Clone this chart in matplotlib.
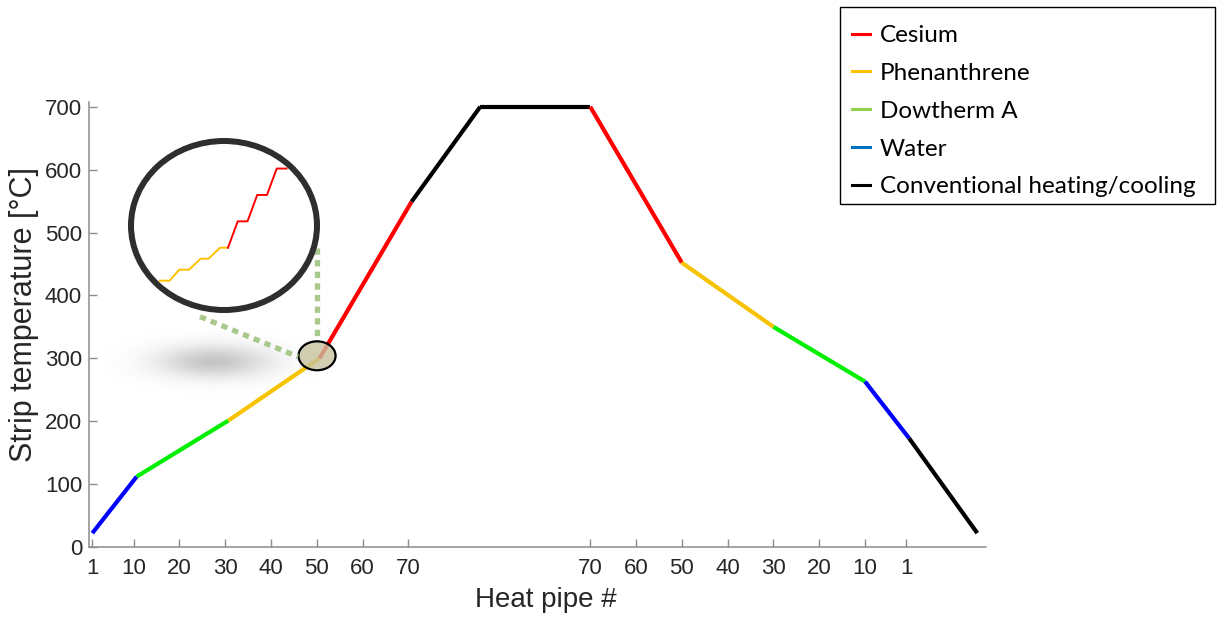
import numpy as np
import matplotlib
matplotlib.use("Agg")
import matplotlib.pyplot as plt
from matplotlib.lines import Line2D
from matplotlib.patches import Ellipse, Rectangle

# Strip temperature along the line. x is the position in heat-pipe units:
# heating pipes 1..70, the conventional furnace section, then cooling pipes 70..1.
path_x = [1.0, 10.7, 30.7, 50.6, 70.7, 85.7, 109.7, 129.7, 149.7, 169.7, 179.3, 194.2]
path_T = [22, 112, 201, 300, 549, 700, 700, 452, 350, 263, 173, 22]
segment_medium = ["Water", "Dowtherm A", "Phenanthrene", "Cesium",
                  "Conventional heating/cooling", "Conventional heating/cooling",
                  "Cesium", "Phenanthrene", "Dowtherm A", "Water",
                  "Conventional heating/cooling"]

# Tick labels: heating pipes, then cooling pipes counted backwards
heat_ticks = [1, 10, 20, 30, 40, 50, 60, 70]
cool_ticks = [70, 60, 50, 40, 30, 20, 10, 1]
cool_origin = 179.7          # x of cooling pipe m is cool_origin - m
y_ticks = [0, 100, 200, 300, 400, 500, 600, 700]

# Detail around pipe 50: one temperature step per heat pipe
detail_phen_x = [47.1, 47.6, 48.1, 48.6, 49.2, 49.6, 50.2, 50.6]
detail_phen_T = [285, 285, 290, 290, 295, 295, 300, 300]
detail_cs_x = [50.6, 51.1, 51.6, 52.1, 52.6, 53.1, 53.6]
detail_cs_T = [300, 312, 312, 324, 324, 336, 336]

# Legend entries
legend_labels = ["Cesium", "Phenanthrene", "Dowtherm A", "Water",
                 "Conventional heating/cooling"]
legend_colors = ["#ff0000", "#ffc000", "#92d050", "#0070c0", "#000000"]

# Colours used for the curve itself
curve_colors = {
    "Cesium": "#ff0000",
    "Phenanthrene": "#f7c300",
    "Dowtherm A": "#00ee00",
    "Water": "#0000ff",
    "Conventional heating/cooling": "#000000",
}

W, H = 1217, 621
fig = plt.figure(figsize=(W / 100, H / 100), dpi=100)
fig.patch.set_facecolor("white")

AX_L, AX_R, AX_B, AX_T = 89, 986, 547, 101.7
ax = fig.add_axes([AX_L / W, (H - AX_B) / H, (AX_R - AX_L) / W, (AX_B - AX_T) / H])
ax.set_facecolor("none")

# Curve, one coloured piece per medium
for i, medium in enumerate(segment_medium):
    ax.plot(path_x[i:i + 2], path_T[i:i + 2], color=curve_colors[medium],
            lw=3.0, solid_capstyle="butt", zorder=3)

XMIN, XMAX, YMIN, YMAX = 0.28, 196.1, 0, 708

# Soft grey shadow under the magnifier
gx = np.linspace(-1, 1, 240)
gy = np.linspace(-1, 1, 100)
GX, GY = np.meshgrid(gx, gy)
alpha = 0.5 * np.exp(-((GX / 0.5) ** 2 + (GY / 0.38) ** 2))
shadow = np.zeros((gy.size, gx.size, 4))
shadow[..., :3] = 0.55
shadow[..., 3] = alpha
ax.imshow(shadow, extent=[3.5, 51.5, 228, 362], aspect="auto",
          interpolation="bilinear", zorder=1)
ax.set_xlim(XMIN, XMAX)
ax.set_ylim(YMIN, YMAX)

# Small magnified region marker
ax.add_patch(Ellipse((50.06, 304), 8.1, 46, facecolor=(0.78, 0.76, 0.62, 0.8),
                     edgecolor="black", lw=1.6, zorder=4))

# Axes styling
for side in ("top", "right"):
    ax.spines[side].set_visible(False)
for side in ("left", "bottom"):
    ax.spines[side].set_color("#8c8c8c")
    ax.spines[side].set_linewidth(1.1)

xt = list(heat_ticks) + [cool_origin - m for m in cool_ticks]
xl = [str(v) for v in heat_ticks] + [str(v) for v in cool_ticks]
ax.set_xticks(xt)
ax.set_xticklabels(xl)
ax.set_yticks(y_ticks)
ax.tick_params(direction="in", length=5.8, width=1.0, color="#8c8c8c",
               labelsize=16, labelcolor="#262626")
ax.tick_params(axis="x", pad=8.0)
ax.tick_params(axis="y", pad=5.0)
for lab in ax.get_xticklabels() + ax.get_yticklabels():
    lab.set_fontfamily("Liberation Sans")

ax.set_xlabel("Heat pipe #", fontsize=20, color="#262626", family="Liberation Sans")
ax.xaxis.label.set_va("center")
ax.xaxis.set_label_coords((546 - AX_L) / (AX_R - AX_L), -(600 - AX_B) / (AX_B - AX_T))
ax.set_ylabel("Strip temperature [°C]", fontsize=22, color="#262626",
              family="Liberation Sans")
ax.yaxis.label.set_va("center")
ax.yaxis.set_label_coords((24 - AX_L) / (AX_R - AX_L), (AX_B - 314) / (AX_B - AX_T))

# Dotted connectors from the marker to the magnifier
def fx(px):
    return px / W

def fy(py):
    return (H - py) / H

conn_color = "#a9c98c"
for (x0, y0), (x1, y1) in [((200, 316.7), (298, 356.7)), ((317.3, 248), (317.3, 337))]:
    fig.add_artist(Line2D([fx(x0), fx(x1)], [fy(y0), fy(y1)], transform=fig.transFigure,
                          color=conn_color, lw=3.8, linestyle=(0, (1.2, 1.0)),
                          dash_capstyle="butt", zorder=3))

# Magnifier with the stepped detail
MX0, MX1, MY0, MY1 = 128, 320, 138, 313
axm = fig.add_axes([fx(MX0), fy(MY1), (MX1 - MX0) / W, (MY1 - MY0) / H], zorder=5)
axm.set_xlim(45.47, 55.32)
axm.set_ylim(270.3, 349.9)
axm.axis("off")
ring_w = 6.0
ew = 1 - ring_w / (MX1 - MX0)
eh = 1 - ring_w / (MY1 - MY0)
axm.add_patch(Ellipse((0.5, 0.5), ew, eh, transform=axm.transAxes,
                      facecolor="white", edgecolor="none", zorder=1))
clip = Ellipse((0.5, 0.5), ew, eh, transform=axm.transAxes,
               facecolor="none", edgecolor="none")
axm.add_patch(clip)
l1, = axm.plot(detail_phen_x, detail_phen_T, color="#ffc000", lw=1.4, zorder=2)
l2, = axm.plot(detail_cs_x, detail_cs_T, color="#ff0000", lw=1.4, zorder=2)
for ln in (l1, l2):
    ln.set_clip_path(clip)
axm.add_patch(Ellipse((0.5, 0.5), ew, eh, transform=axm.transAxes,
                      facecolor="none", edgecolor="#2e2e2e",
                      lw=ring_w * 0.72, zorder=3))

# Legend: entries plus a separate square frame
handles = [Line2D([], [], color=c, lw=2.2) for c in legend_colors]
leg = fig.legend(handles, legend_labels, loc="upper left",
                 bbox_to_anchor=(fx(840), fy(13)), borderaxespad=0,
                 prop={"family": "Lato", "size": 17.5}, frameon=False,
                 handlelength=0.75, handletextpad=0.4,
                 labelspacing=0.69, borderpad=0.5)
fig.add_artist(Rectangle((fx(840), fy(204)), (1215 - 840) / W, (204 - 7) / H,
                         transform=fig.transFigure, fill=False,
                         edgecolor="black", lw=1.0, zorder=6))

fig.savefig("out.png", dpi=100, facecolor="white")
